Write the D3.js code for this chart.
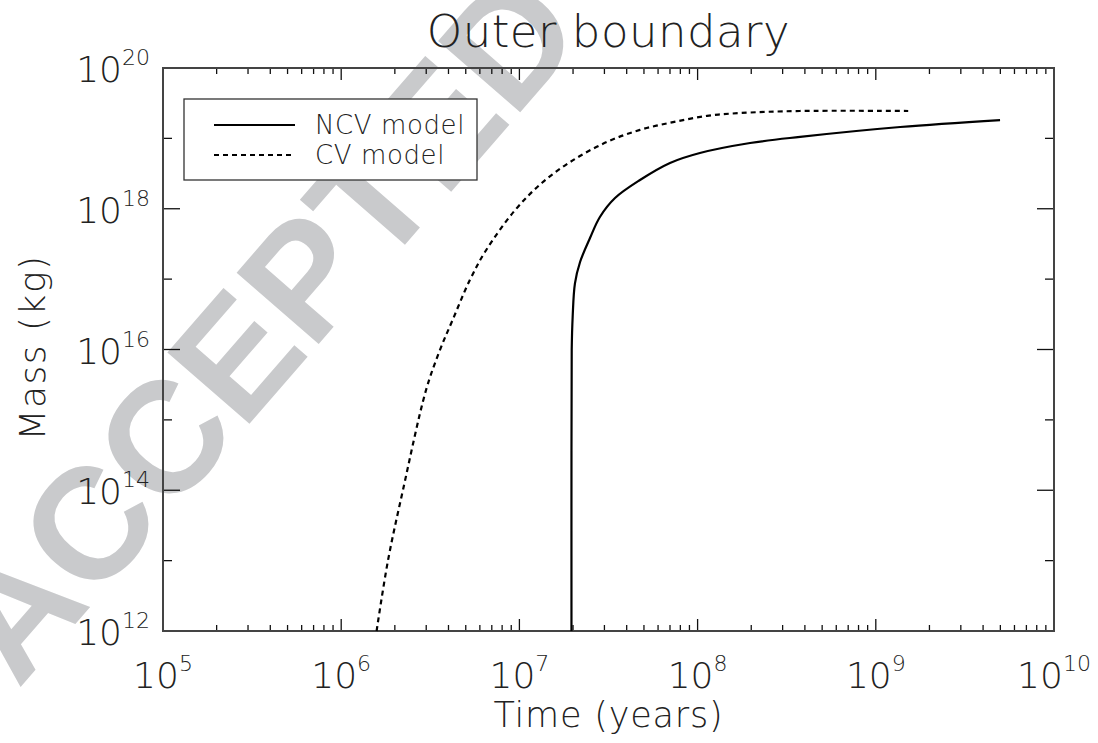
<!DOCTYPE html>
<html>
<head>
<meta charset="utf-8">
<script src="https://cdn.jsdelivr.net/npm/d3@7"></script>
<style>
  body { margin: 0; background: #fff; }
  text { font-family: "DejaVu Sans", sans-serif; font-weight: 200; fill: #222; }
</style>
</head>
<body>
<svg id="chart" width="1098" height="743"></svg>
<script>
// dati
const timeNCV = [1.96e7, 1.96e7, 1.966e7, 1.99e7, 2.05e7, 2.19e7, 2.49e7, 2.83e7, 3.44e7, 4.75e7, 7.00e7, 1.03e8, 1.97e8, 3.76e8, 1.37e9, 4.98e9];
const massNCV = [1e12, 3.7e14, 9.8e15, 2.9e16, 8.7e16, 1.75e17, 3.84e17, 7.64e17, 1.42e18, 2.56e18, 4.47e18, 6.19e18, 8.59e18, 1.05e19, 1.45e19, 1.82e19];

const timeCV = [1.58e6, 1.83e6, 2.22e6, 2.99e6, 3.58e6, 4.22e6, 5.28e6, 6.50e6, 9.44e6, 1.34e7, 2.00e7, 3.10e7, 4.75e7, 7.28e7, 1.13e8, 1.73e8, 3.75e8, 1.52e9];
const massCV = [1e12, 1e13, 1e14, 2.63e15, 9.8e15, 2.63e16, 9.8e16, 2.57e17, 9.5e17, 2.34e18, 4.9e18, 8.9e18, 1.32e19, 1.70e19, 2.09e19, 2.29e19, 2.45e19, 2.45e19];

const seriesNames = ["NCV model", "CV model"];
const xExponents = [5, 6, 7, 8, 9, 10];
const yLabelExponents = [12, 14, 16, 18, 20];
const yTickExponents = [12, 13, 14, 15, 16, 17, 18, 19, 20];

const margin = { top: 68, right: 44, bottom: 112, left: 163 };
const width = 1098 - margin.left - margin.right;
const height = 743 - margin.top - margin.bottom;

const svg = d3.select("#chart");

// filigrana "ACCEPTED" dietro al grafico
svg.append("text")
    .attr("transform", "translate(18,690) rotate(-49)")
    .style("font-family", "'Liberation Sans', Arial, sans-serif")
    .style("font-weight", "700")
    .style("font-size", "158px")
    .style("fill", "#c9cacc")
    .text("ACCEPTED");

const g = svg.append("g")
    .attr("transform", `translate(${margin.left},${margin.top})`);

const x = d3.scaleLog().domain([1e5, 1e10]).range([0, width]);
const y = d3.scaleLog().domain([1e12, 1e20]).range([height, 0]);

// tick minori sull'asse x
const xMinor = [];
xExponents.slice(0, -1).forEach(e => {
    for (let k = 2; k <= 9; k++) xMinor.push(k * Math.pow(10, e));
});
const xMajor = xExponents.map(e => Math.pow(10, e));

function drawXTicks(y0, dir) {
    g.selectAll(null).data(xMinor).enter().append("line")
        .attr("x1", d => x(d)).attr("x2", d => x(d))
        .attr("y1", y0).attr("y2", y0 + dir * 6)
        .attr("stroke", "#111").attr("stroke-width", 1.3);
    g.selectAll(null).data(xMajor).enter().append("line")
        .attr("x1", d => x(d)).attr("x2", d => x(d))
        .attr("y1", y0).attr("y2", y0 + dir * 12)
        .attr("stroke", "#111").attr("stroke-width", 1.3);
}
drawXTicks(height, -1);
drawXTicks(0, 1);

function drawYTicks(x0, dir) {
    g.selectAll(null).data(yTickExponents).enter().append("line")
        .attr("x1", x0)
        .attr("x2", d => x0 + dir * (d % 2 === 0 ? 17 : 9))
        .attr("y1", d => y(Math.pow(10, d))).attr("y2", d => y(Math.pow(10, d)))
        .attr("stroke", "#111").attr("stroke-width", 1.3);
}
drawYTicks(0, 1);
drawYTicks(width, -1);

// cornice
g.append("rect")
    .attr("width", width).attr("height", height)
    .attr("fill", "none").attr("stroke", "#444").attr("stroke-width", 2);

// etichette asse x
const xLab = g.selectAll(".xlab").data(xExponents).enter().append("text")
    .attr("class", "xlab")
    .attr("x", d => x(Math.pow(10, d)))
    .attr("y", height + 57)
    .attr("text-anchor", "middle")
    .style("font-size", "36px");
xLab.append("tspan").text("10");
xLab.append("tspan").attr("dy", -17).style("font-size", "22px").text(d => d);

// etichette asse y
const yLab = g.selectAll(".ylab").data(yLabelExponents).enter().append("text")
    .attr("class", "ylab")
    .attr("x", -13)
    .attr("y", d => y(Math.pow(10, d)) + 14)
    .attr("text-anchor", "end")
    .style("font-size", "36px");
yLab.append("tspan").text("10");
yLab.append("tspan").attr("dy", -17).style("font-size", "22px").text(d => d);

// titoli
svg.append("text")
    .attr("x", margin.left + width / 2).attr("y", 47)
    .attr("text-anchor", "middle")
    .style("font-size", "45px")
    .attr("letter-spacing", "0.5")
    .text("Outer boundary");

svg.append("text")
    .attr("x", margin.left + width / 2).attr("y", 727)
    .attr("text-anchor", "middle")
    .style("font-size", "35px")
    .attr("letter-spacing", "0.8")
    .text("Time (years)");

svg.append("text")
    .attr("transform", `translate(45,${margin.top + height / 2 - 2}) rotate(-90)`)
    .attr("text-anchor", "middle")
    .style("font-size", "36px")
    .attr("letter-spacing", "1.5")
    .text("Mass (kg)");

// curve
const line = d3.line()
    .x(d => x(d[0]))
    .y(d => y(d[1]))
    .curve(d3.curveCatmullRom.alpha(0.5));

g.append("path")
    .datum(d3.zip(timeNCV, massNCV))
    .attr("d", line)
    .attr("fill", "none").attr("stroke", "#000").attr("stroke-width", 2.2);

g.append("path")
    .datum(d3.zip(timeCV, massCV))
    .attr("d", line)
    .attr("fill", "none").attr("stroke", "#000").attr("stroke-width", 2.2)
    .attr("stroke-dasharray", "5,4");

// legenda
const leg = svg.append("g").attr("transform", "translate(184,99)");
leg.append("rect")
    .attr("width", 293).attr("height", 81)
    .attr("fill", "#fff").attr("stroke", "#333").attr("stroke-width", 1.3);
seriesNames.forEach((name, i) => {
    leg.append("line")
        .attr("x1", 30).attr("x2", 111)
        .attr("y1", 26 + i * 30).attr("y2", 26 + i * 30)
        .attr("stroke", "#000").attr("stroke-width", 2)
        .attr("stroke-dasharray", i === 1 ? "5,4" : null);
    leg.append("text")
        .attr("x", 131).attr("y", 35 + i * 30)
        .style("font-size", "26px")
        .attr("letter-spacing", "0.6")
        .text(name);
});
</script>
</body>
</html>
